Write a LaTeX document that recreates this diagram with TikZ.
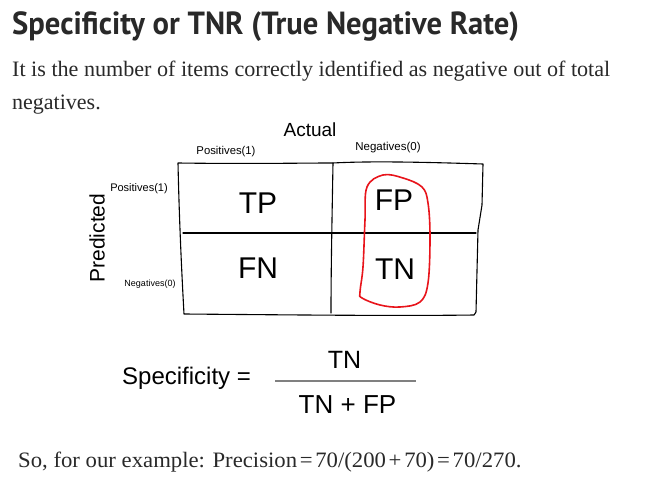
\documentclass[tikz,border=0pt]{standalone}
\usepackage{fontspec}
\setmainfont{Liberation Serif}
\newfontfamily\titlefont{PT Sans}
\newfontfamily\arialfont{Liberation Sans}
\definecolor{txt}{HTML}{292929}
\definecolor{penred}{HTML}{E8141B}
\definecolor{fracgray}{HTML}{808080}
\newcommand{\opsym}[1]{\kern2.6pt#1\kern2.6pt}
\tikzset{
  body/.style={anchor=base west, inner sep=0pt, text=txt, font=\fontsize{22}{22}\selectfont},
  sk/.style={font=\arialfont, inner sep=0pt, text=black},
  cell/.style={sk, font=\arialfont\fontsize{30}{30}\selectfont},
  pen/.style={black, line width=1.1pt, line cap=round, line join=round},
}
\begin{document}
\begin{tikzpicture}[x=1pt,y=-1pt]
\useasboundingbox[fill=white] (0,0) rectangle (650,489);
% header texts
\node[anchor=base west, inner sep=0pt, text=txt, font=\titlefont\bfseries\fontsize{32}{32}\selectfont] (title) at (12,35) {\scalebox{0.957}[1]{Specificity or TNR (True Negative Rate)}};
\node[body] (l1) at (12,76.7) {\scalebox{1.005}[1]{It is the number of items correctly identified as negative out of total}};
\node[body] (l2) at (12,110) {negatives.};
% axis labels
\node[sk, font=\arialfont\fontsize{19}{19}\selectfont] (actual) at (310,130) {Actual};
\node[sk, font=\arialfont\fontsize{11.3}{11.3}\selectfont] (cpos) at (226,152) {Positives(1)};
\node[sk, font=\arialfont\fontsize{11.5}{11.5}\selectfont] (cneg) at (388,148) {Negatives(0)};
\node[sk, font=\arialfont\fontsize{11}{11}\selectfont] (rpos) at (139,189) {Positives(1)};
\node[sk, font=\arialfont\fontsize{9}{9}\selectfont] (rneg) at (150,284) {Negatives(0)};
\node[sk, font=\arialfont\fontsize{21}{21}\selectfont, rotate=90] (pred) at (97,238) {Predicted};
% box
\draw[pen] (178,163) .. controls (250,164) and (300,163) .. (333,163)
  .. controls (370,161) and (420,162) .. (483,164)
  -- (482,205) -- (478,230) -- (476,312) -- (474,315)
  .. controls (400,316) and (300,315) .. (184,314)
  .. controls (181,260) and (179,210) .. (178,163);
\draw[pen] (333,163) .. controls (332,220) and (331,270) .. (331,313);
\draw[pen] (183,233) -- (476,233);
% cells
\node[cell] (TP) at (258,203) {TP};
\node[cell] (FP) at (394,200) {FP};
\node[cell] (FN) at (258,268) {FN};
\node[cell] (TN) at (395,269) {TN};
% red loop
\draw[penred, line width=1.6pt] plot[smooth cycle, tension=0.6] coordinates {
 (367,187) (383,175) (403,178) (422,187) (428,203) (430,237) (428,283)
 (420,302) (400,307) (380,305) (362,298) (360,292) (363,267) (365,220)};
% formula
\node[sk, anchor=base west, font=\arialfont\fontsize{24}{24}\selectfont] (spec) at (122,384) {Specificity =};
\node[sk, anchor=base, font=\arialfont\fontsize{25}{25}\selectfont] (num) at (344.5,368) {TN};
\node[sk, anchor=base, font=\arialfont\fontsize{26}{26}\selectfont] (den) at (347.5,413) {TN + FP};
\coordinate (fl) at (275,381);
\coordinate (fr) at (416,381);
\draw[fracgray, line width=1.5pt] (fl) -- (fr);
% bottom text
\node[body] (bot) at (18,467) {\scalebox{1.033}[1]{So, for our example: Precision\opsym{=}70/(200\opsym{+}70)\opsym{=}70/270.}};
\end{tikzpicture}
\end{document}
